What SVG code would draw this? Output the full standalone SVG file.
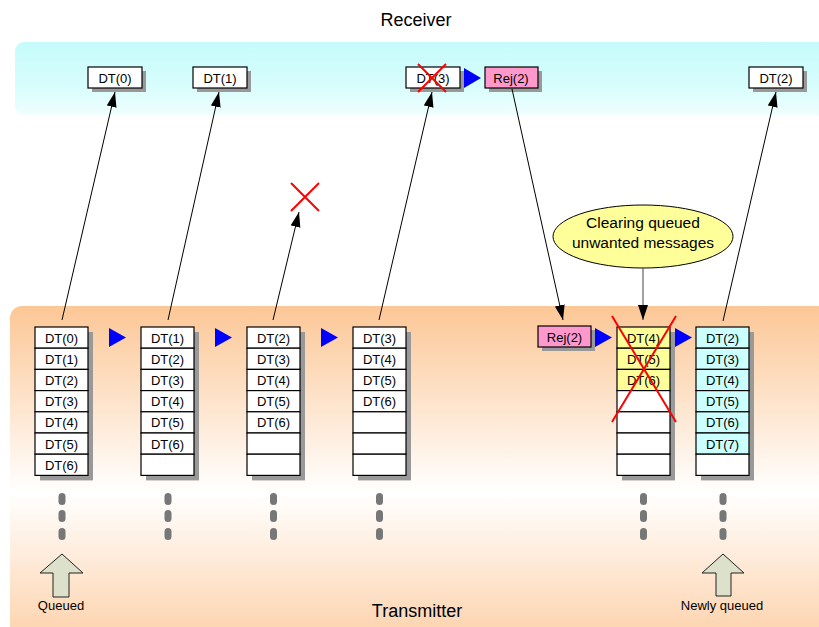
<svg xmlns="http://www.w3.org/2000/svg" width="819" height="627" viewBox="0 0 819 627">
<defs>
<linearGradient id="rxg" x1="0" y1="0" x2="0" y2="1">
<stop offset="0" stop-color="#c6fbfb"/><stop offset="0.6" stop-color="#d8fdfd"/><stop offset="1" stop-color="#effefe"/>
</linearGradient>
<linearGradient id="txg" x1="0" y1="0" x2="0" y2="1">
<stop offset="0" stop-color="#fcc796"/><stop offset="0.55" stop-color="#ffffff"/><stop offset="1" stop-color="#fdd0a8"/>
</linearGradient>
<marker id="ah" markerUnits="userSpaceOnUse" markerWidth="16" markerHeight="12" refX="15" refY="5" orient="auto">
<path d="M0,0 L15,5 L0,10 Z" fill="#000"/>
</marker>
<style>
text{font-family:"Liberation Sans",Arial,sans-serif;fill:#000}
.c{font-size:13px;text-anchor:middle}
.box{stroke:#000;stroke-width:1.2}
.sh{fill:#999}
.ln{stroke:#000;stroke-width:1;fill:none}
.tri{fill:#0000ff}
.x{stroke:#ff0000;stroke-width:2;fill:none}
.dot{fill:#777}
.up{fill:#dde1cc;stroke:#222;stroke-width:1}
</style>
</defs>
<rect x="15" y="42" width="830" height="73" rx="9" fill="url(#rxg)"/>
<rect x="10" y="306" width="830" height="340" rx="12" fill="url(#txg)"/>
<text x="416" y="25.5" style="font-size:18px;text-anchor:middle">Receiver</text>
<text x="417" y="617" style="font-size:18px;text-anchor:middle">Transmitter</text>

<g id="rx-dt0"><rect class="sh" x="92" y="71" width="54" height="21"/><rect class="box" x="88" y="67" width="54" height="21" fill="#fff"/><text class="c" x="115" y="82.5">DT(0)</text></g>
<g id="rx-dt1"><rect class="sh" x="197" y="71" width="54" height="21"/><rect class="box" x="193" y="67" width="54" height="21" fill="#fff"/><text class="c" x="220" y="82.5">DT(1)</text></g>
<g id="rx-dt3"><rect class="sh" x="410" y="71" width="54" height="21"/><rect class="box" x="406" y="67" width="54" height="21" fill="#fff"/><text class="c" x="433" y="82.5">DT(3)</text><path class="x" d="M418,64 L446,92 M446,64 L418,92"/></g>
<g id="rx-rej2"><rect class="sh" x="489" y="71" width="53" height="21"/><rect class="box" x="485" y="67" width="53" height="21" fill="#ff99cc"/><text class="c" x="511" y="82.5">Rej(2)</text></g>
<g id="rx-dt2"><rect class="sh" x="753" y="71" width="54" height="21"/><rect class="box" x="749" y="67" width="54" height="21" fill="#fff"/><text class="c" x="776" y="82.5">DT(2)</text></g>
<path class="tri" d="M464,68 L481,78 L464,88 Z"/>

<g id="lost"><path class="x" d="M291,183 L319,211 M319,183 L291,211"/></g>

<g id="col1">
<rect class="sh" x="40" y="332" width="53" height="148.4"/>
<g class="box" fill="#fff">
<rect x="35" y="327" width="53" height="21.2"/><rect x="35" y="348.2" width="53" height="21.2"/><rect x="35" y="369.4" width="53" height="21.2"/><rect x="35" y="390.6" width="53" height="21.2"/><rect x="35" y="411.8" width="53" height="21.2"/><rect x="35" y="433" width="53" height="21.2"/><rect x="35" y="454.2" width="53" height="21.2"/>
</g>
<text class="c" x="61.5" y="342.5">DT(0)</text><text class="c" x="61.5" y="363.7">DT(1)</text><text class="c" x="61.5" y="384.9">DT(2)</text><text class="c" x="61.5" y="406.1">DT(3)</text><text class="c" x="61.5" y="427.3">DT(4)</text><text class="c" x="61.5" y="448.5">DT(5)</text><text class="c" x="61.5" y="469.7">DT(6)</text>
</g>
<g id="col2">
<rect class="sh" x="146" y="332" width="53" height="148.4"/>
<g class="box" fill="#fff">
<rect x="141" y="327" width="53" height="21.2"/><rect x="141" y="348.2" width="53" height="21.2"/><rect x="141" y="369.4" width="53" height="21.2"/><rect x="141" y="390.6" width="53" height="21.2"/><rect x="141" y="411.8" width="53" height="21.2"/><rect x="141" y="433" width="53" height="21.2"/><rect x="141" y="454.2" width="53" height="21.2"/>
</g>
<text class="c" x="167.5" y="342.5">DT(1)</text><text class="c" x="167.5" y="363.7">DT(2)</text><text class="c" x="167.5" y="384.9">DT(3)</text><text class="c" x="167.5" y="406.1">DT(4)</text><text class="c" x="167.5" y="427.3">DT(5)</text><text class="c" x="167.5" y="448.5">DT(6)</text>
</g>
<g id="col3">
<rect class="sh" x="252" y="332" width="53" height="148.4"/>
<g class="box" fill="#fff">
<rect x="247" y="327" width="53" height="21.2"/><rect x="247" y="348.2" width="53" height="21.2"/><rect x="247" y="369.4" width="53" height="21.2"/><rect x="247" y="390.6" width="53" height="21.2"/><rect x="247" y="411.8" width="53" height="21.2"/><rect x="247" y="433" width="53" height="21.2"/><rect x="247" y="454.2" width="53" height="21.2"/>
</g>
<text class="c" x="273.5" y="342.5">DT(2)</text><text class="c" x="273.5" y="363.7">DT(3)</text><text class="c" x="273.5" y="384.9">DT(4)</text><text class="c" x="273.5" y="406.1">DT(5)</text><text class="c" x="273.5" y="427.3">DT(6)</text>
</g>
<g id="col4">
<rect class="sh" x="358" y="332" width="53" height="148.4"/>
<g class="box" fill="#fff">
<rect x="353" y="327" width="53" height="21.2"/><rect x="353" y="348.2" width="53" height="21.2"/><rect x="353" y="369.4" width="53" height="21.2"/><rect x="353" y="390.6" width="53" height="21.2"/><rect x="353" y="411.8" width="53" height="21.2"/><rect x="353" y="433" width="53" height="21.2"/><rect x="353" y="454.2" width="53" height="21.2"/>
</g>
<text class="c" x="379.5" y="342.5">DT(3)</text><text class="c" x="379.5" y="363.7">DT(4)</text><text class="c" x="379.5" y="384.9">DT(5)</text><text class="c" x="379.5" y="406.1">DT(6)</text>
</g>
<g id="tx-rej2"><rect class="sh" x="542" y="330" width="53" height="21"/><rect class="box" x="538" y="326" width="53" height="21" fill="#ff99cc"/><text class="c" x="564.5" y="341.5">Rej(2)</text></g>
<g id="col5">
<rect class="sh" x="622" y="332" width="53" height="148.4"/>
<g class="box">
<rect x="617" y="327" width="53" height="21.2" fill="#ffff99"/><rect x="617" y="348.2" width="53" height="21.2" fill="#ffff99"/><rect x="617" y="369.4" width="53" height="21.2" fill="#ffff99"/><rect x="617" y="390.6" width="53" height="21.2" fill="#fff"/><rect x="617" y="411.8" width="53" height="21.2" fill="#fff"/><rect x="617" y="433" width="53" height="21.2" fill="#fff"/><rect x="617" y="454.2" width="53" height="21.2" fill="#fff"/>
</g>
<text class="c" x="643.5" y="342.5">DT(4)</text><text class="c" x="643.5" y="363.7">DT(5)</text><text class="c" x="643.5" y="384.9">DT(6)</text>
<path class="x" d="M612,316 L676,422 M676,316 L612,422"/>
</g>
<g id="col6">
<rect class="sh" x="701" y="332" width="53" height="148.4"/>
<g class="box">
<rect x="696" y="327" width="53" height="21.2" fill="#ccffff"/><rect x="696" y="348.2" width="53" height="21.2" fill="#ccffff"/><rect x="696" y="369.4" width="53" height="21.2" fill="#ccffff"/><rect x="696" y="390.6" width="53" height="21.2" fill="#ccffff"/><rect x="696" y="411.8" width="53" height="21.2" fill="#ccffff"/><rect x="696" y="433" width="53" height="21.2" fill="#ccffff"/><rect x="696" y="454.2" width="53" height="21.2" fill="#fff"/>
</g>
<text class="c" x="722.5" y="342.5">DT(2)</text><text class="c" x="722.5" y="363.7">DT(3)</text><text class="c" x="722.5" y="384.9">DT(4)</text><text class="c" x="722.5" y="406.1">DT(5)</text><text class="c" x="722.5" y="427.3">DT(6)</text><text class="c" x="722.5" y="448.5">DT(7)</text>
</g>

<g id="note">
<ellipse cx="643" cy="236.5" rx="90" ry="31.5" fill="#ffff99" stroke="#000" stroke-width="1"/>
<text x="643" y="228" style="font-size:15.5px;text-anchor:middle">Clearing queued</text>
<text x="643" y="248" style="font-size:15.5px;text-anchor:middle">unwanted messages</text>
</g>

<g id="flow-triangles">
<path class="tri" d="M109,328 L126,337.5 L109,347 Z"/>
<path class="tri" d="M215,328 L232,337.5 L215,347 Z"/>
<path class="tri" d="M321,328 L338,337.5 L321,347 Z"/>
<path class="tri" d="M595,328 L612,337.5 L595,347 Z"/>
<path class="tri" d="M675,328 L692,337.5 L675,347 Z"/>
</g>

<g id="connectors">
<line class="ln" x1="62" y1="320" x2="115" y2="92" marker-end="url(#ah)"/>
<line class="ln" x1="168" y1="320" x2="219" y2="92" marker-end="url(#ah)"/>
<line class="ln" x1="273" y1="320" x2="299" y2="212" marker-end="url(#ah)"/>
<line class="ln" x1="379" y1="320" x2="432" y2="92" marker-end="url(#ah)"/>
<line class="ln" x1="512" y1="89" x2="563" y2="320" marker-end="url(#ah)"/>
<line class="ln" x1="723" y1="321" x2="776" y2="92" marker-end="url(#ah)"/>
<line x1="643" y1="268" x2="643" y2="320" stroke="#444" stroke-width="1" marker-end="url(#ah)"/>
</g>

<g id="dots">
<rect class="dot" x="58.5" y="493" width="7" height="12" rx="3.5"/><rect class="dot" x="58.5" y="510" width="7" height="12" rx="3.5"/><rect class="dot" x="58.5" y="528" width="7" height="12" rx="3.5"/>
<rect class="dot" x="164.5" y="493" width="7" height="12" rx="3.5"/><rect class="dot" x="164.5" y="510" width="7" height="12" rx="3.5"/><rect class="dot" x="164.5" y="528" width="7" height="12" rx="3.5"/>
<rect class="dot" x="270" y="493" width="7" height="12" rx="3.5"/><rect class="dot" x="270" y="510" width="7" height="12" rx="3.5"/><rect class="dot" x="270" y="528" width="7" height="12" rx="3.5"/>
<rect class="dot" x="376" y="493" width="7" height="12" rx="3.5"/><rect class="dot" x="376" y="510" width="7" height="12" rx="3.5"/><rect class="dot" x="376" y="528" width="7" height="12" rx="3.5"/>
<rect class="dot" x="640" y="493" width="7" height="12" rx="3.5"/><rect class="dot" x="640" y="510" width="7" height="12" rx="3.5"/><rect class="dot" x="640" y="528" width="7" height="12" rx="3.5"/>
<rect class="dot" x="719.5" y="493" width="7" height="12" rx="3.5"/><rect class="dot" x="719.5" y="510" width="7" height="12" rx="3.5"/><rect class="dot" x="719.5" y="528" width="7" height="12" rx="3.5"/>
</g>

<g id="queued">
<path class="up" d="M62,554 L83,573 L69,573 L69,597 L53,597 L53,573 L40,573 Z"/>
<text x="61" y="610" style="font-size:13px;text-anchor:middle">Queued</text>
</g>
<g id="newly-queued">
<path class="up" d="M723,554 L744,573 L731,573 L731,596 L716,596 L716,573 L702,573 Z"/>
<text x="722" y="610" style="font-size:13px;text-anchor:middle">Newly queued</text>
</g>
</svg>
